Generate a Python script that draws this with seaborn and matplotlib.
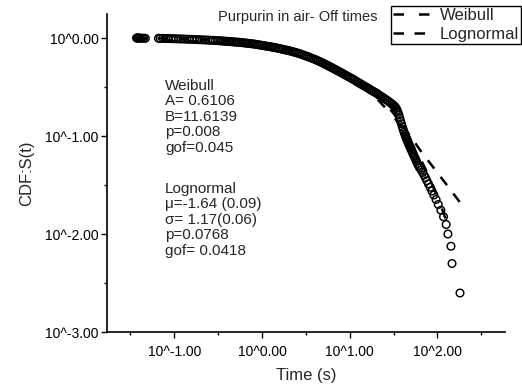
import matplotlib
matplotlib.use("Agg")
import matplotlib.pyplot as plt
import seaborn as sns
import pandas as pd
from matplotlib.ticker import FixedLocator, FuncFormatter

# Empirical survival of the off times as (log10 t, log10 S) pairs
survival_points = [
    # short times, S close to 1
    (-1.43, 0.000), (-1.42, 0.000), (-1.41, -0.001), (-1.40, 0.000), (-1.39, -0.001),
    (-1.37, -0.002), (-1.35, -0.002), (-1.33, -0.003),
    (-1.18, -0.003), (-1.16, -0.004), (-1.13, -0.004), (-1.10, -0.005), (-1.07, -0.005),
    (-1.04, -0.006), (-1.01, -0.007), (-0.98, -0.008), (-0.95, -0.009), (-0.92, -0.010),
    (-0.89, -0.010), (-0.86, -0.012), (-0.83, -0.013), (-0.80, -0.014), (-0.77, -0.015),
    (-0.74, -0.016), (-0.71, -0.017), (-0.68, -0.019), (-0.65, -0.020), (-0.62, -0.021),
    (-0.59, -0.023), (-0.56, -0.024), (-0.53, -0.026),
    # bulk of the distribution
    (-0.50, -0.027), (-0.48, -0.028), (-0.46, -0.030), (-0.44, -0.031), (-0.42, -0.033),
    (-0.40, -0.034), (-0.38, -0.035), (-0.36, -0.037), (-0.34, -0.038), (-0.32, -0.040),
    (-0.30, -0.041), (-0.28, -0.043), (-0.26, -0.044), (-0.24, -0.046), (-0.22, -0.048),
    (-0.20, -0.050), (-0.18, -0.052), (-0.16, -0.054), (-0.14, -0.056), (-0.12, -0.058),
    (-0.10, -0.061), (-0.08, -0.063), (-0.06, -0.066), (-0.04, -0.069), (-0.02, -0.072),
    (0.00, -0.075), (0.02, -0.078), (0.04, -0.081), (0.06, -0.084), (0.08, -0.087),
    (0.10, -0.090), (0.12, -0.093), (0.14, -0.097), (0.16, -0.100), (0.18, -0.104),
    (0.20, -0.108), (0.22, -0.112), (0.24, -0.116), (0.26, -0.120), (0.28, -0.124),
    (0.30, -0.128), (0.32, -0.132), (0.34, -0.137), (0.36, -0.142), (0.38, -0.147),
    (0.40, -0.152), (0.42, -0.158), (0.44, -0.164), (0.46, -0.170), (0.48, -0.176),
    (0.50, -0.183), (0.52, -0.189), (0.54, -0.196), (0.56, -0.203), (0.58, -0.210),
    (0.60, -0.217), (0.62, -0.225), (0.64, -0.233), (0.66, -0.241), (0.68, -0.249),
    (0.70, -0.258), (0.72, -0.267), (0.74, -0.276), (0.76, -0.285), (0.78, -0.295),
    (0.80, -0.304), (0.82, -0.314), (0.84, -0.323), (0.86, -0.333), (0.88, -0.342),
    (0.90, -0.352), (0.92, -0.362), (0.94, -0.372), (0.96, -0.382), (0.98, -0.392),
    (1.00, -0.402), (1.02, -0.412), (1.04, -0.422), (1.06, -0.432), (1.08, -0.443),
    (1.10, -0.455), (1.12, -0.465), (1.14, -0.476), (1.16, -0.486), (1.18, -0.497),
    (1.20, -0.507), (1.22, -0.518), (1.24, -0.529), (1.26, -0.540), (1.28, -0.550),
    (1.30, -0.560), (1.32, -0.572), (1.34, -0.585), (1.36, -0.596), (1.38, -0.608),
    (1.40, -0.620), (1.42, -0.632), (1.44, -0.645), (1.46, -0.658),
    # shoulder and steep drop
    (1.48, -0.672), (1.49, -0.680), (1.50, -0.688), (1.51, -0.696), (1.52, -0.705),
    (1.53, -0.718), (1.54, -0.735), (1.55, -0.757), (1.56, -0.785), (1.57, -0.815),
    (1.58, -0.845), (1.59, -0.875), (1.60, -0.905), (1.61, -0.933), (1.62, -0.960),
    (1.63, -0.985),
    # long-time tail
    (1.636, -1.000), (1.642, -1.011), (1.647, -1.022), (1.652, -1.034), (1.657, -1.046),
    (1.663, -1.058), (1.668, -1.071), (1.674, -1.084), (1.681, -1.097), (1.688, -1.111),
    (1.695, -1.125), (1.702, -1.140), (1.710, -1.155), (1.718, -1.171), (1.726, -1.187),
    (1.734, -1.204), (1.743, -1.222), (1.753, -1.241), (1.762, -1.260), (1.772, -1.280),
    (1.783, -1.301), (1.796, -1.323), (1.815, -1.347), (1.832, -1.372), (1.848, -1.398),
    (1.864, -1.426), (1.880, -1.456), (1.898, -1.488), (1.918, -1.523), (1.938, -1.561),
    (1.960, -1.602), (1.985, -1.648), (2.010, -1.699), (2.040, -1.757), (2.070, -1.824),
    (2.100, -1.903), (2.120, -2.000), (2.155, -2.125), (2.167, -2.301), (2.258, -2.602),
]

# Fitted model curves (log10 units)
weibull_log_t = [-1.43, -1.00, -0.50, 0.00, 0.50, 1.00, 1.25, 1.50, 1.65, 1.80, 1.90, 2.00, 2.12]
weibull_log_s = [-0.013, -0.024, -0.048, -0.097, -0.196, -0.396, -0.563, -0.800, -0.988, -1.219, -1.403, -1.615, -1.911]

lognormal_log_t = [-1.43, -1.00, -0.50, 0.00, 0.50, 1.00, 1.25, 1.40, 1.50, 1.60, 1.70, 1.80, 1.90, 2.00, 2.10, 2.26]
lognormal_log_s = [-0.001, -0.006, -0.022, -0.065, -0.160, -0.370, -0.540, -0.660, -0.770, -0.890, -1.010, -1.140, -1.257, -1.375, -1.490, -1.680]

x_ticks = [-1, 0, 1, 2]
y_ticks = [-3, -2, -1, 0]

title_text = "Purpurin in air- Off times"
weibull_text = "Weibull\nA= 0.6106\nB=11.6139\np=0.008\ngof=0.045"
lognormal_text = "Lognormal\n\u03bc=-1.64 (0.09)\n\u03c3= 1.17(0.06)\np=0.0768\ngof= 0.0418"

sns.set_style("ticks")
plt.rcParams["font.family"] = ["Liberation Sans", "DejaVu Sans"]

fig = plt.figure(figsize=(5.22, 3.89), dpi=100)
ax = fig.add_axes([107 / 522, 1 - 332 / 389, (505 - 107) / 522, (332 - 14) / 389])

data = pd.DataFrame(survival_points, columns=["log_t", "log_s"])
sns.scatterplot(data=data, x="log_t", y="log_s", ax=ax, marker="o", s=30,
                facecolor="none", edgecolor="black", linewidth=1.05, zorder=2)

weib = pd.DataFrame({"log_t": weibull_log_t, "log_s": weibull_log_s})
logn = pd.DataFrame({"log_t": lognormal_log_t, "log_s": lognormal_log_s})
sns.lineplot(data=weib, x="log_t", y="log_s", ax=ax, color="black", lw=1.8,
             estimator=None, sort=False, label="Weibull", zorder=3,
             linestyle=(0, (4.2, 6.0)))
sns.lineplot(data=logn, x="log_t", y="log_s", ax=ax, color="black", lw=1.8,
             estimator=None, sort=False, label="Lognormal", zorder=3,
             linestyle=(0, (4.2, 4.2)))

ax.set_xlim(-1.767, 2.771)
ax.set_ylim(-3.0, 0.245)

fmt = FuncFormatter(lambda v, pos: "10^{:.2f}".format(v))
ax.xaxis.set_major_locator(FixedLocator(x_ticks))
ax.xaxis.set_minor_locator(FixedLocator([-1.5, -0.5, 0.5, 1.5, 2.5]))
ax.yaxis.set_major_locator(FixedLocator(y_ticks))
ax.yaxis.set_minor_locator(FixedLocator([-2.5, -1.5, -0.5]))
ax.xaxis.set_major_formatter(fmt)
ax.yaxis.set_major_formatter(fmt)

ax.tick_params(axis="both", which="major", direction="out", length=4.5, width=1.0,
               labelsize=10, color="black", labelcolor="black")
ax.tick_params(axis="both", which="minor", direction="out", length=2.5, width=1.0,
               color="black")
ax.tick_params(axis="x", which="major", pad=5)
ax.tick_params(axis="y", which="major", pad=1.5)

for side in ("top", "right"):
    ax.spines[side].set_visible(False)
for side in ("left", "bottom"):
    ax.spines[side].set_linewidth(1.2)
    ax.spines[side].set_color("black")

ax.set_xlabel("Time (s)", fontsize=12, labelpad=6)
ax.set_ylabel("CDF:S(t)", fontsize=12, labelpad=8)

fig.text(165 / 522, 1 - 79 / 389, weibull_text, fontsize=11, va="top", ha="left",
         linespacing=1.13)
fig.text(165 / 522, 1 - 182 / 389, lognormal_text, fontsize=11, va="top", ha="left",
         linespacing=1.13)
fig.text(298 / 522, 1 - 17 / 389, title_text, fontsize=10.5, va="center", ha="center")

leg = ax.legend(loc="upper right", bbox_to_anchor=(521 / 522, 1 - 6 / 389),
                bbox_transform=fig.transFigure, fontsize=12, frameon=True,
                fancybox=False, edgecolor="black", framealpha=1, borderpad=0.12,
                handlelength=2.5, handletextpad=0.3, labelspacing=0.22,
                borderaxespad=0)
leg.get_frame().set_linewidth(1.0)

fig.savefig("out.png", dpi=100)
